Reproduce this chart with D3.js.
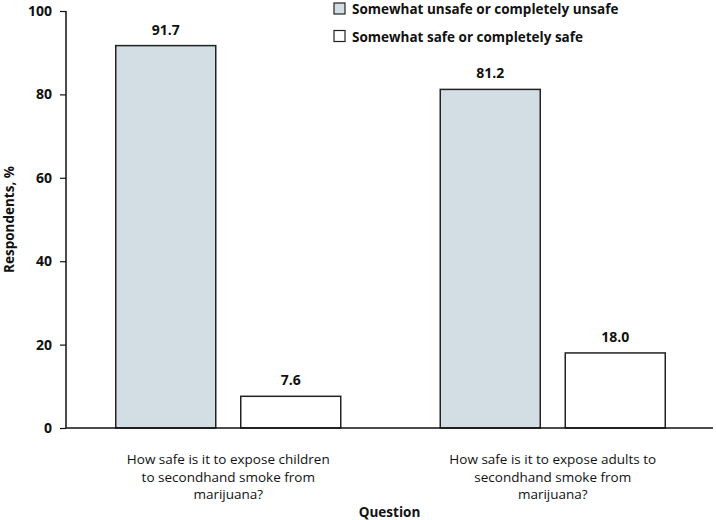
<!DOCTYPE html>
<html>
<head>
<meta charset="utf-8">
<script src="https://cdn.jsdelivr.net/npm/d3@7"></script>
<style>
  body { margin: 0; background: #fff; }
  text { font-family: "Open Sans", "Noto Sans", sans-serif; fill: #111; }
</style>
</head>
<body>
<div class="graph"></div>
<script>
/*---------- DATA ----------*/
const questions = [
    ["How safe is it to expose children", "to secondhand smoke from", "marijuana?"],
    ["How safe is it to expose adults to", "secondhand smoke from", "marijuana?"]
];
const seriesNames = ["Somewhat unsafe or completely unsafe", "Somewhat safe or completely safe"];
const unsafeValues = [91.7, 81.2];
const safeValues = [7.6, 18.0];
const yTicks = [0, 20, 40, 60, 80, 100];

/*---------- D3 STUFF ----------*/
const SIZE = {X: 716, Y: 520};
const MARGIN = {TOP: 11, BOTTOM: 92, LEFT: 66, RIGHT: 3};
const DIM = {WIDTH: SIZE.X - MARGIN.LEFT - MARGIN.RIGHT,
            HEIGHT: SIZE.Y - MARGIN.TOP - MARGIN.BOTTOM};
const COLORS = ["#d3dee4", "#ffffff"];

const svg = d3.select(".graph").append("svg")
    .attr("width", SIZE.X)
    .attr("height", SIZE.Y);

const graph = svg.append("g")
    .attr("transform", `translate(${MARGIN.LEFT}, ${MARGIN.TOP})`);

//scales
const x0 = d3.scaleBand()
    .domain(d3.range(questions.length))
    .range([0, DIM.WIDTH + 2])
    .padding(0);

const groupWidth = 225;
const x1 = d3.scaleBand()
    .domain(d3.range(seriesNames.length))
    .range([(x0.bandwidth() - groupWidth) / 2, (x0.bandwidth() + groupWidth) / 2])
    .paddingInner(0.2);

const y = d3.scaleLinear()
    .domain([0, 100])
    .range([DIM.HEIGHT, 0]);

//y axis
const yAxis = graph.append("g")
    .attr("class", "y axis")
    .call(d3.axisLeft(y).tickValues(yTicks).tickSize(6).tickPadding(8));
yAxis.select(".domain").attr("stroke", "#111").attr("stroke-width", 1.5)
    .attr("d", `M0,0V${DIM.HEIGHT}`);
yAxis.selectAll(".tick line").attr("stroke", "#111").attr("stroke-width", 1.2);
yAxis.selectAll(".tick text")
    .style("font-size", "14px").style("font-weight", "bold")
    .style("font-family", "'Open Sans', sans-serif").attr("fill", "#111");

//bars
const rows = questions.map((q, i) => [unsafeValues[i], safeValues[i]]);

const groups = graph.selectAll(".group")
    .data(rows)
    .enter()
    .append("g")
        .attr("class", "group")
        .attr("transform", (d, i) => `translate(${x0(i)}, 0)`);

groups.selectAll("rect")
    .data(d => d.map((v, j) => ({v: v, j: j})))
    .enter()
    .append("rect")
        .attr("x", d => x1(d.j))
        .attr("y", d => y(d.v))
        .attr("width", x1.bandwidth())
        .attr("height", d => DIM.HEIGHT - y(d.v))
        .attr("fill", d => COLORS[d.j])
        .attr("stroke", "#222")
        .attr("stroke-width", 1.5);

groups.selectAll(".val")
    .data(d => d.map((v, j) => ({v: v, j: j})))
    .enter()
    .append("text")
        .attr("class", "val")
        .attr("x", d => x1(d.j) + x1.bandwidth() / 2)
        .attr("y", d => y(d.v) - 11)
        .attr("text-anchor", "middle")
        .style("font-size", "14px")
        .style("font-weight", "bold")
        .text(d => d.v.toFixed(1));

//x axis line
graph.append("line")
    .attr("x1", 0).attr("x2", DIM.WIDTH)
    .attr("y1", DIM.HEIGHT).attr("y2", DIM.HEIGHT)
    .attr("stroke", "#111").attr("stroke-width", 1.5);

//category labels
graph.selectAll(".cat")
    .data(questions)
    .enter()
    .append("text")
        .attr("class", "cat")
        .attr("text-anchor", "middle")
        .attr("transform", (d, i) => `translate(${x0(i) + x0.bandwidth() / 2}, ${DIM.HEIGHT + 36})`)
        .style("font-size", "13.5px")
        .selectAll("tspan")
        .data(d => d)
        .enter()
        .append("tspan")
            .attr("x", 0)
            .attr("dy", (d, k) => k === 0 ? 0 : 17.5)
            .text(d => d);

//axis titles
graph.append("text")
    .attr("x", DIM.WIDTH / 2)
    .attr("y", DIM.HEIGHT + 89)
    .attr("text-anchor", "middle")
    .style("font-size", "13.5px")
    .style("font-weight", "bold")
    .text("Question");

graph.append("text")
    .attr("transform", `translate(${-52}, ${DIM.HEIGHT / 2}) rotate(-90)`)
    .attr("text-anchor", "middle")
    .style("font-size", "13.5px")
    .style("font-weight", "bold")
    .text("Respondents, %");

//legend
const legend = svg.append("g")
    .attr("transform", "translate(334, 3)");

const items = legend.selectAll(".item")
    .data(seriesNames)
    .enter()
    .append("g")
        .attr("class", "item")
        .attr("transform", (d, i) => `translate(0, ${i * 27.5})`);

items.append("rect")
    .attr("width", 11).attr("height", 11)
    .attr("fill", (d, i) => COLORS[i])
    .attr("stroke", "#222").attr("stroke-width", 1.2);

items.append("text")
    .attr("x", 18).attr("y", 11)
    .style("font-size", "13.5px")
    .style("font-weight", "bold")
    .text(d => d);
</script>
</body>
</html>
